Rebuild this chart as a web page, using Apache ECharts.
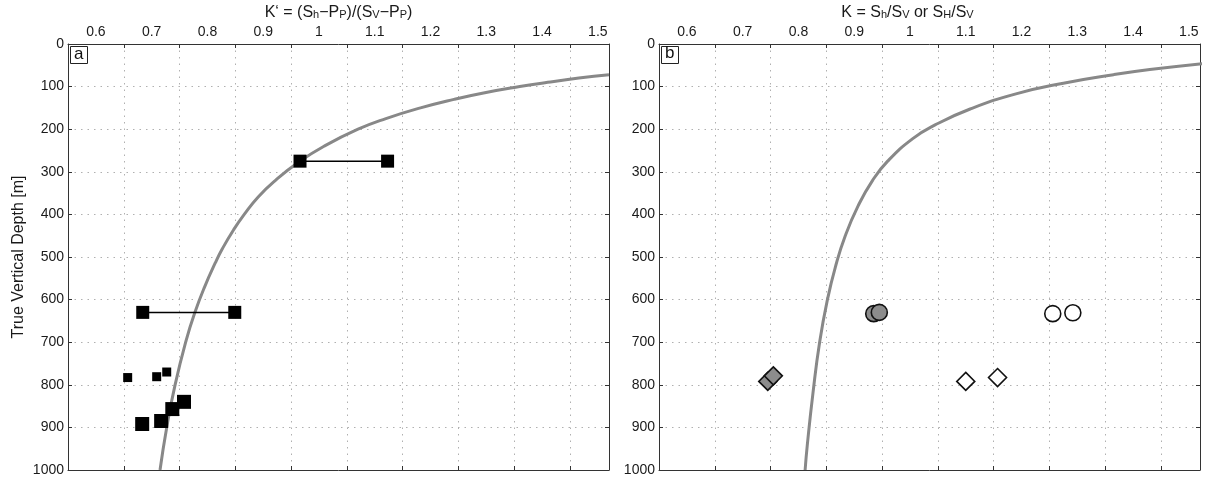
<!DOCTYPE html>
<html>
<head>
<meta charset="utf-8">
<script src="https://cdn.jsdelivr.net/npm/echarts@6/dist/echarts.min.js"></script>
<style>
  html, body { margin: 0; padding: 0; background: #fff; }
  #chart { width: 1206px; height: 483px; }
</style>
</head>
<body>
<div id="chart"></div>
<script>
// Axis ticks
const kTicks = [0.6, 0.7, 0.8, 0.9, 1, 1.1, 1.2, 1.3, 1.4, 1.5];
const depthTicks = [0, 100, 200, 300, 400, 500, 600, 700, 800, 900, 1000];

// Panel a: effective stress ratio K' trend curve (K', depth)
const curveA_K =     [1.52, 1.466, 1.41, 1.36, 1.295, 1.242, 1.182, 1.12, 1.07, 1.009, 0.965, 0.922, 0.891, 0.866, 0.847, 0.827, 0.814, 0.795, 0.777, 0.762, 0.742, 0.727, 0.715];
const curveA_depth = [72,   80,    90,   100,  115,   130,   150,   175,  200,  240,   276,   320,   359,   400,   436,   480,   514,   570,   632,   695,   800,   900,   1000];

// Panel a: range measurements (min / max K' at one depth)
const rangeA_min =   [0.966, 0.684];
const rangeA_max =   [1.123, 0.849];
const rangeA_depth = [275,   630];

// Panel a: single measurements, small squares
const smallA_K =     [0.657, 0.709, 0.727];
const smallA_depth = [783,   781,   770];

// Panel a: single measurements, large squares
const largeA_K =     [0.683, 0.717, 0.737, 0.758];
const largeA_depth = [892,   885,   857,   840];

// Panel b: total stress ratio K trend curve (K, depth)
const curveB_K =     [1.525, 1.43, 1.365, 1.275, 1.19, 1.109, 1.045, 1.005, 0.96, 0.933, 0.907, 0.884, 0.867, 0.852, 0.838, 0.826, 0.816, 0.812];
const curveB_depth = [46,    60,   72,    92,    117,  152,   190,   222,   275,  320,   380,   450,   520,   600,   700,   820,   940,   1000];

// Panel b: Sh/Sv (grey) and SH/Sv (white) values
const circGrey_K =   [0.935, 0.945];
const circGrey_d =   [633,   630];
const circWhite_K =  [1.256, 1.292];
const circWhite_d =  [633,   631];
const diaGrey_K =    [0.745, 0.755];
const diaGrey_d =    [792,   779];
const diaWhite_K =   [1.100, 1.157];
const diaWhite_d =   [792,   783];

const pair = (xs, ys) => xs.map((x, i) => [x, ys[i]]);

const FONT = 'Liberation Sans, Arial, Helvetica, sans-serif';
const axisCol = '#333';
const gridDot = { show: true, lineStyle: { color: '#b0b0b0', type: [1.5, 5], width: 1 } };

function xAxes(gi, titleRich, titlePad) {
  return [
    {
      type: 'value', gridIndex: gi, position: 'top', min: 0.55, max: 1.52, interval: 0.1,
      name: titleRich, nameLocation: 'middle', nameGap: 18,
      nameTextStyle: {
        fontFamily: FONT, fontSize: 16, color: '#1a1a1a', padding: titlePad,
        rich: {
          s: { fontFamily: FONT, fontSize: 11, color: '#1a1a1a', verticalAlign: 'bottom', padding: [5, 0, 0, 0] }
        }
      },
      axisLine: { show: true, onZero: false, lineStyle: { color: axisCol, width: 1 } },
      axisTick: { show: true, inside: true, length: 4, lineStyle: { color: axisCol } },
      axisLabel: {
        fontFamily: FONT, fontSize: 14, color: '#1a1a1a', margin: 5,
        customValues: kTicks,
        formatter: v => String(+v.toFixed(2))
      },
      splitLine: gridDot
    },
    {
      type: 'value', gridIndex: gi, position: 'bottom', min: 0.55, max: 1.52, interval: 0.1,
      axisLine: { show: true, onZero: false, lineStyle: { color: axisCol, width: 1 } },
      axisTick: { show: true, inside: true, length: 4, lineStyle: { color: axisCol } },
      axisLabel: { show: false },
      splitLine: { show: false }
    }
  ];
}

function yAxes(gi, withName) {
  const left = {
    type: 'value', gridIndex: gi, position: 'left', inverse: true, min: 0, max: 1000, interval: 100,
    axisLine: { show: true, onZero: false, lineStyle: { color: axisCol, width: 1 } },
    axisTick: { show: true, inside: true, length: 4, lineStyle: { color: axisCol } },
    axisLabel: {
      fontFamily: FONT, fontSize: 14, color: '#1a1a1a', margin: 4,
      customValues: depthTicks,
      formatter: v => String(v)
    },
    splitLine: gridDot
  };
  if (withName) {
    left.name = 'True Vertical Depth [m]';
    left.nameLocation = 'middle';
    left.nameGap = 41;
    left.nameTextStyle = { fontFamily: FONT, fontSize: 16, color: '#1a1a1a' };
  }
  const right = {
    type: 'value', gridIndex: gi, position: 'right', inverse: true, min: 0, max: 1000, interval: 100,
    axisLine: { show: true, onZero: false, lineStyle: { color: axisCol, width: 1 } },
    axisTick: { show: true, inside: true, length: 4, lineStyle: { color: axisCol } },
    axisLabel: { show: false },
    splitLine: { show: false }
  };
  return [left, right];
}

const series = [];

// Panel a
series.push({
  type: 'line', xAxisIndex: 0, yAxisIndex: 0, data: pair(curveA_K, curveA_depth),
  smooth: 0.5, showSymbol: false, silent: true, clip: true,
  lineStyle: { color: '#888', width: 3 }, z: 2
});
rangeA_depth.forEach((d, i) => {
  series.push({
    type: 'line', xAxisIndex: 0, yAxisIndex: 0,
    data: [[rangeA_min[i], d], [rangeA_max[i], d]],
    symbol: 'rect', symbolSize: 13, showAllSymbol: true,
    itemStyle: { color: '#000', opacity: 1 },
    lineStyle: { color: '#000', width: 1.5 }, z: 3
  });
});
series.push({
  type: 'scatter', xAxisIndex: 0, yAxisIndex: 0, data: pair(smallA_K, smallA_depth),
  symbol: 'rect', symbolSize: 9, itemStyle: { color: '#000', opacity: 1 }, z: 3
});
series.push({
  type: 'scatter', xAxisIndex: 0, yAxisIndex: 0, data: pair(largeA_K, largeA_depth),
  symbol: 'rect', symbolSize: 14, itemStyle: { color: '#000', opacity: 1 }, z: 3
});

// Panel b
series.push({
  type: 'line', xAxisIndex: 2, yAxisIndex: 2, data: pair(curveB_K, curveB_depth),
  smooth: 0.5, showSymbol: false, silent: true, clip: true,
  lineStyle: { color: '#888', width: 3 }, z: 2
});
const markerStyle = fill => ({ color: fill, borderColor: '#111', borderWidth: 1.6, opacity: 1 });
series.push({
  type: 'scatter', xAxisIndex: 2, yAxisIndex: 2, data: pair(circGrey_K, circGrey_d),
  symbol: 'circle', symbolSize: 16, itemStyle: markerStyle('#8c8c8c'), z: 3
});
series.push({
  type: 'scatter', xAxisIndex: 2, yAxisIndex: 2, data: pair(circWhite_K, circWhite_d),
  symbol: 'circle', symbolSize: 16, itemStyle: markerStyle('#fff'), z: 3
});
series.push({
  type: 'scatter', xAxisIndex: 2, yAxisIndex: 2, data: pair(diaGrey_K, diaGrey_d),
  symbol: 'diamond', symbolSize: [18, 18], itemStyle: markerStyle('#8c8c8c'), z: 3
});
series.push({
  type: 'scatter', xAxisIndex: 2, yAxisIndex: 2, data: pair(diaWhite_K, diaWhite_d),
  symbol: 'diamond', symbolSize: [18, 18], itemStyle: markerStyle('#fff'), z: 3
});

const chart = echarts.init(document.getElementById('chart'), null, { renderer: 'canvas' });
chart.setOption({
  backgroundColor: '#fff',
  animation: false,
  grid: [
    { left: 68, top: 44, width: 541, height: 426, show: false, outerBoundsMode: 'none', containLabel: false },
    { left: 659, top: 44, width: 541, height: 426, show: false, outerBoundsMode: 'none', containLabel: false }
  ],
  xAxis: [
    ...xAxes(0, 'K‘ = (S{s|h}−P{s|P})/(S{s|V}−P{s|P})', [0, 0, 0, 0]),
    ...xAxes(1, 'K = S{s|h}/S{s|V} or S{s|H}/S{s|V}', [0, 44, 0, 0])
  ],
  yAxis: [
    ...yAxes(0, true),
    ...yAxes(1, false)
  ],
  graphic: [
    { type: 'rect', left: 70, top: 46, shape: { width: 17, height: 17 },
      style: { fill: '#fff', stroke: '#222', lineWidth: 1 }, z: 10 },
    { type: 'text', left: 74, top: 46, style: { text: 'a', font: '17px ' + FONT, fill: '#111' }, z: 11 },
    { type: 'rect', left: 661, top: 46, shape: { width: 17, height: 17 },
      style: { fill: '#fff', stroke: '#222', lineWidth: 1 }, z: 10 },
    { type: 'text', left: 665, top: 45, style: { text: 'b', font: '17px ' + FONT, fill: '#111' }, z: 11 }
  ],
  series: series
});
</script>
</body>
</html>
